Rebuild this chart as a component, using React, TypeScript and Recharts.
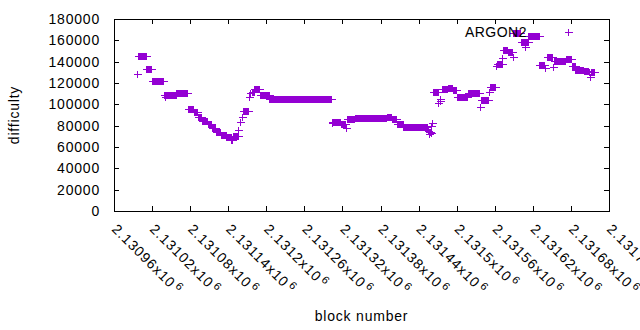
import React from 'react';
import { ScatterChart, Scatter, XAxis, YAxis, ReferenceArea, Legend } from 'recharts';

const X_MIN = 2130960;
const X_MAX = 2131740;
const xTicks = [
  2130960, 2131020, 2131080, 2131140, 2131200, 2131260, 2131320,
  2131380, 2131440, 2131500, 2131560, 2131620, 2131680, 2131740,
];
const xTickLabels = [
  '2.13096', '2.13102', '2.13108', '2.13114', '2.1312', '2.13126', '2.13132',
  '2.13138', '2.13144', '2.1315', '2.13156', '2.13162', '2.13168', '2.13174',
];
const yTicks = [0, 20000, 40000, 60000, 80000, 100000, 120000, 140000, 160000, 180000];

// difficulty held over a block range: [first block, last block, difficulty]
const runsEarly: [number, number, number][] = [
  [2130996, 2130996, 128000],
  [2130998, 2131010, 145000],
  [2131011, 2131019, 133000],
  [2131020, 2131037, 121500],
  [2131038, 2131038, 108700],
  [2131040, 2131040, 106600],
  [2131041, 2131057, 109200],
  [2131058, 2131075, 110500],
  [2131076, 2131085, 96000],
  [2131086, 2131091, 92500],
  [2131092, 2131097, 88500],
  [2131098, 2131107, 84800],
  [2131108, 2131113, 81400],
  [2131114, 2131119, 77500],
  [2131120, 2131127, 74100],
  [2131128, 2131136, 70800],
  [2131137, 2131144, 69000],
  [2131145, 2131146, 66500],
  [2131147, 2131155, 70000],
  [2131156, 2131156, 75900],
  [2131159, 2131159, 83700],
  [2131162, 2131162, 88400],
  [2131163, 2131171, 93300],
  [2131173, 2131173, 106600],
  [2131174, 2131174, 110300],
  [2131177, 2131180, 111700],
  [2131181, 2131189, 114200],
  [2131190, 2131204, 108600],
  [2131205, 2131302, 104700],
];

const runsMiddle: [number, number, number][] = [
  [2131303, 2131303, 82200],
  [2131304, 2131308, 83500],
  [2131309, 2131316, 83200],
  [2131317, 2131324, 81400],
  [2131325, 2131325, 77500],
  [2131327, 2131338, 86000],
  [2131339, 2131373, 86900],
  [2131374, 2131389, 87200],
  [2131390, 2131397, 87800],
  [2131398, 2131405, 86000],
  [2131406, 2131406, 81600],
  [2131408, 2131415, 81100],
  [2131416, 2131453, 78500],
  [2131454, 2131455, 75000],
  [2131456, 2131456, 72000],
  [2131457, 2131458, 74500],
  [2131459, 2131459, 73500],
  [2131460, 2131460, 79500],
  [2131461, 2131461, 82800],
];

const runsLate: [number, number, number][] = [
  [2131462, 2131470, 111600],
  [2131471, 2131471, 101000],
  [2131473, 2131473, 103000],
  [2131474, 2131474, 105000],
  [2131477, 2131485, 114100],
  [2131486, 2131493, 115300],
  [2131494, 2131499, 113200],
  [2131500, 2131517, 107200],
  [2131518, 2131535, 110500],
  [2131536, 2131536, 97200],
  [2131538, 2131550, 104000],
  [2131551, 2131551, 111800],
  [2131553, 2131561, 115800],
  [2131562, 2131562, 135900],
  [2131563, 2131571, 138100],
  [2131572, 2131572, 143700],
  [2131573, 2131580, 150900],
  [2131581, 2131587, 148600],
  [2131588, 2131588, 144700],
  [2131589, 2131600, 167200],
  [2131601, 2131607, 158700],
  [2131608, 2131608, 153500],
  [2131609, 2131612, 158700],
  [2131613, 2131629, 163800],
  [2131630, 2131638, 136600],
  [2131639, 2131639, 134400],
  [2131642, 2131650, 144200],
  [2131652, 2131652, 135300],
  [2131654, 2131671, 140300],
  [2131672, 2131680, 142800],
  [2131681, 2131686, 135900],
  [2131687, 2131699, 132500],
  [2131700, 2131707, 131700],
  [2131708, 2131709, 130600],
  [2131710, 2131710, 125300],
  [2131711, 2131716, 130600],
];

const points: { block: number; difficulty: number }[] = [];
[...runsEarly, ...runsMiddle, ...runsLate].forEach(([first, last, difficulty]) => {
  for (let b = first; b <= last; b++) points.push({ block: b, difficulty });
});

const FONT = '"Liberation Sans", Arial, sans-serif';
const PURPLE = '#9400d3';
const PLOT_W = 495;
const PLOT_H = 192;
const TICK = 5;

function Plus(props: any) {
  const { cx, cy } = props;
  if (cx == null || cy == null) return null;
  const x = Math.round(cx) + 0.5;
  const y = Math.round(cy) + 0.5;
  return (
    <path
      d={`M${x - 4},${y}H${x + 4}M${x},${y - 3.5}V${y + 3.5}`}
      stroke={PURPLE}
      strokeWidth={1}
      fill="none"
      shapeRendering="crispEdges"
    />
  );
}

function XTick(props: any) {
  const { x, y, payload } = props;
  const px = Math.round(x) + 0.5;
  const label = xTickLabels[xTicks.indexOf(payload.value)];
  const tx = x - 3;
  const ty = y + 19;
  return (
    <g>
      <line x1={px} x2={px} y1={y} y2={y - TICK} stroke="#000" shapeRendering="crispEdges" />
      <line x1={px} x2={px} y1={y - PLOT_H} y2={y - PLOT_H + TICK} stroke="#000" shapeRendering="crispEdges" />
      <text
        x={tx}
        y={ty}
        transform={`rotate(45 ${tx} ${ty})`}
        fontSize={14}
        fontFamily={FONT}
        letterSpacing={1}
        fill="#000"
      >
        {label}x10<tspan dx={2} dy={-5} fontSize={11}>6</tspan>
      </text>
    </g>
  );
}

function YTick(props: any) {
  const { x, y, payload } = props;
  const py = Math.round(y) + 0.5;
  return (
    <g>
      <line x1={x} x2={x + TICK} y1={py} y2={py} stroke="#000" shapeRendering="crispEdges" />
      <line x1={x + PLOT_W} x2={x + PLOT_W - TICK} y1={py} y2={py} stroke="#000" shapeRendering="crispEdges" />
      <text x={x - 14} y={y} dy="0.36em" textAnchor="end" fontSize={14} fontFamily={FONT} letterSpacing={0.8} fill="#000">
        {payload.value}
      </text>
    </g>
  );
}

function Frame(props: any) {
  const { x, y, width, height } = props;
  return (
    <rect x={x + 0.5} y={y + 0.5} width={width} height={height} fill="none" stroke="#000" shapeRendering="crispEdges" />
  );
}

function KeyBox() {
  return (
    <svg width={640} height={24}>
      <text x={527} y={17} textAnchor="end" fontSize={14} fontFamily={FONT} letterSpacing={0.5} fill="#000">
        ARGON2
      </text>
      <Plus cx={568} cy={12} />
    </svg>
  );
}

export default function App() {
  return (
    <div style={{ position: 'absolute', left: 0, top: 0 }}>
      <ScatterChart width={640} height={330} margin={{ top: 19, right: 31, bottom: 0, left: 0 }}>
        <XAxis
          type="number"
          dataKey="block"
          domain={[X_MIN, X_MAX]}
          ticks={xTicks}
          interval={0}
          height={119}
          tickSize={0}
          tickMargin={0}
          axisLine={false}
          tickLine={false}
          tick={<XTick />}
          label={(p: any) => {
            const vb = p.viewBox;
            return (
              <text x={vb.x + vb.width / 2} y={vb.y + 110} textAnchor="middle" fontSize={14} fontFamily={FONT} letterSpacing={0.8} fill="#000">
                block number
              </text>
            );
          }}
        />
        <YAxis
          type="number"
          dataKey="difficulty"
          domain={[0, 180000]}
          ticks={yTicks}
          interval={0}
          width={114}
          tickSize={0}
          tickMargin={0}
          axisLine={false}
          tickLine={false}
          tick={<YTick />}
          label={(p: any) => {
            const vb = p.viewBox;
            const lx = vb.x + 19;
            const ly = vb.y + vb.height / 2;
            return (
              <text x={lx} y={ly} transform={`rotate(-90 ${lx} ${ly})`} textAnchor="middle" fontSize={14} fontFamily={FONT} letterSpacing={0.8} fill="#000">
                difficulty
              </text>
            );
          }}
        />
        <ReferenceArea x1={X_MIN} x2={X_MAX} y1={0} y2={180000} shape={<Frame />} />
        <Legend
          layout="horizontal"
          verticalAlign="middle"
          align="center"
          wrapperStyle={{ top: 20, left: 0, width: 640, height: 24 }}
          content={() => <KeyBox />}
        />
        <Scatter name="ARGON2" data={points} shape={<Plus />} isAnimationActive={false} />
      </ScatterChart>
    </div>
  );
}
